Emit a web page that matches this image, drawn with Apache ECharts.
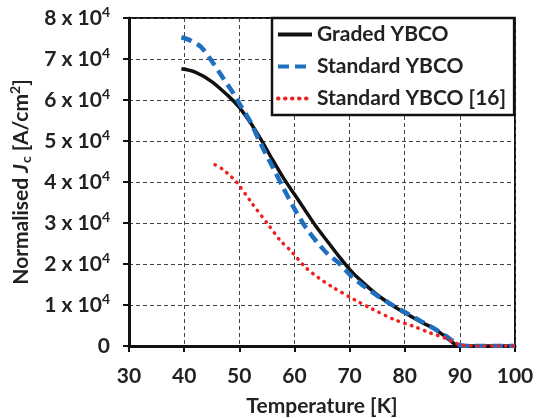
<!DOCTYPE html>
<html>
<head>
<meta charset="utf-8">
<script src="https://cdn.jsdelivr.net/npm/echarts@6/dist/echarts.min.js"></script>
<style>html,body{margin:0;padding:0;background:#fff}#c{width:541px;height:418px}</style>
</head>
<body>
<div id="c"></div>
<script>
// Temperature (K) and normalised Jc (A/cm^2)
var tempGraded = [39.5, 42, 45, 48, 50, 52, 54, 56, 58, 60, 62, 64, 66, 68, 70, 72, 75, 78, 80, 83, 85, 87, 90, 92, 100];
var jcGraded   = [67600, 66800, 64500, 61000, 58200, 54500, 50200, 45500, 41000, 37000, 33000, 29000, 25500, 22000, 18700, 16000, 12500, 9700, 8100, 5800, 4500, 2700, 0, 0, 0];

var tempStandard = [39.5, 41, 43, 45, 47, 49, 50, 52, 54, 56, 58, 60, 62, 64, 66, 68, 70, 72, 75, 78, 80, 83, 85, 87.5, 90, 92, 100];
var jcStandard   = [75300, 74600, 73000, 69500, 65500, 61500, 59200, 54700, 49000, 43800, 38500, 33500, 29000, 25500, 22500, 20300, 17500, 15200, 12300, 9800, 8300, 6000, 4500, 2400, 200, 0, 0];

var tempRef16 = [45.6, 47, 48.2, 49.5, 52.3, 55.3, 57.4, 59.5, 62, 64.3, 67, 71, 74, 78, 81.6, 84.6, 87.6, 90, 92, 100];
var jcRef16   = [44200, 43100, 41700, 40000, 34800, 29500, 25800, 23000, 19200, 16700, 14300, 11200, 9100, 6500, 4800, 3200, 1800, 300, 0, 0];

var xTicks = {min: 30, max: 100, step: 10};
var yTicks = {min: 0, max: 80000, step: 10000};
var seriesNames = ['Graded YBCO', 'Standard YBCO', 'Standard YBCO [16]'];

function pairs(xs, ys) { return xs.map(function (x, i) { return [x, ys[i]]; }); }

var FONT = 'Lato';
var TXT = '#222';
var chart = echarts.init(document.getElementById('c'), null, {renderer: 'canvas'});
chart.setOption({
  animation: false,
  backgroundColor: '#fff',
  grid: {left: 129, top: 18, width: 386, height: 328, outerBoundsMode: 'none', containLabel: false,
         show: true, borderColor: '#111', borderWidth: 2, backgroundColor: 'transparent'},
  legend: {
    left: 272, top: 18, orient: 'vertical',
    backgroundColor: '#fff', borderColor: '#111', borderWidth: 2.5,
    padding: [6, 8, 6, 4], itemGap: 11, itemWidth: 34, itemHeight: 18,
    itemStyle: {opacity: 0},
    lineStyle: {width: 4},
    textStyle: {fontFamily: FONT, fontWeight: 'bold', fontSize: 21, color: TXT},
    data: seriesNames
  },
  xAxis: {
    type: 'value', min: xTicks.min, max: xTicks.max, interval: xTicks.step,
    name: 'Temperature [K]', nameLocation: 'middle', nameGap: 50,
    nameTextStyle: {fontFamily: FONT, fontWeight: 'bold', fontSize: 21, color: TXT},
    axisLine: {lineStyle: {color: '#111', width: 3}},
    axisTick: {show: true, length: 6, lineStyle: {color: '#111', width: 2}},
    axisLabel: {fontFamily: FONT, fontWeight: 'bold', fontSize: 21, color: TXT, margin: 20},
    splitLine: {show: true, lineStyle: {color: '#444', width: 1, type: [4, 3]}}
  },
  yAxis: {
    type: 'value', min: yTicks.min, max: yTicks.max, interval: yTicks.step,
    name: '{n|Normalised }{j|J}{c|c}{n| [A/cm}{s|2}{n|]}',
    nameLocation: 'middle', nameGap: 91, nameRotate: 90,
    nameTextStyle: {
      fontFamily: FONT, fontWeight: 'bold', fontSize: 21, color: TXT,
      rich: {
        n: {fontFamily: FONT, fontWeight: 'bold', fontSize: 21, color: TXT},
        j: {fontFamily: FONT, fontWeight: 'bold', fontStyle: 'italic', fontSize: 21, color: TXT},
        c: {fontFamily: FONT, fontWeight: 'bold', fontSize: 14, color: TXT, padding: [10, 0, 0, 1]},
        s: {fontFamily: FONT, fontWeight: 'bold', fontSize: 14, color: TXT, padding: [0, 0, 11, 0]}
      }
    },
    axisLine: {show: true, lineStyle: {color: '#111', width: 3}},
    axisTick: {show: true, length: 6, lineStyle: {color: '#111', width: 2}},
    axisLabel: {
      margin: 19,
      formatter: function (v) { return v === 0 ? '{a|0}' : '{a|' + (v / 10000) + ' x 10}{s|4}'; },
      rich: {
        a: {fontFamily: FONT, fontWeight: 'bold', fontSize: 21, color: TXT},
        s: {fontFamily: FONT, fontWeight: 'bold', fontSize: 14, color: TXT, padding: [0, 0, 11, 0]}
      }
    },
    splitLine: {show: true, lineStyle: {color: '#444', width: 1, type: [4, 3]}}
  },
  series: [
    {name: seriesNames[0], type: 'line', data: pairs(tempGraded, jcGraded), symbol: 'none', smooth: 0.3,
     lineStyle: {color: '#111', width: 3.5}, itemStyle: {color: '#111'}, z: 3},
    {name: seriesNames[1], type: 'line', data: pairs(tempStandard, jcStandard), symbol: 'none', smooth: 0.3,
     lineStyle: {color: '#1f6fc0', width: 4.5, type: [11, 6]}, itemStyle: {color: '#1f6fc0'}, z: 4},
    {name: seriesNames[2], type: 'line', data: pairs(tempRef16, jcRef16), symbol: 'none', smooth: 0.3,
     lineStyle: {color: '#f02020', width: 3.5, type: [0.5, 6.5], cap: 'round'}, itemStyle: {color: '#f02020'}, z: 5}
  ]
});
</script>
</body>
</html>
